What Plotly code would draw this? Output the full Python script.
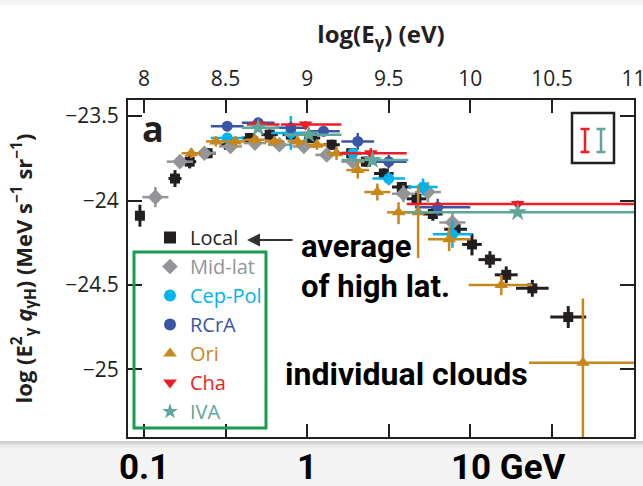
import plotly.graph_objects as go

# ---------------- data (log E [eV], log E^2 q) ----------------
local_x = [7.975, 8.19, 8.28, 8.39, 8.52, 8.65, 8.77, 8.90, 9.03, 9.15, 9.27, 9.36,
           9.47, 9.58, 9.67, 9.77, 9.91, 10.01, 10.12, 10.22, 10.38, 10.60]
local_y = [-24.09, -23.87, -23.77, -23.72, -23.67, -23.63, -23.61, -23.61, -23.63, -23.67,
           -23.72, -23.77, -23.84, -23.92, -23.99, -24.08, -24.17, -24.26, -24.35, -24.44,
           -24.52, -24.69]
local_xerr = [0.03, 0.04, 0.04, 0.05, 0.05, 0.05, 0.05, 0.05, 0.05, 0.05, 0.06, 0.06,
              0.06, 0.06, 0.06, 0.06, 0.07, 0.06, 0.07, 0.07, 0.10, 0.11]
local_yerr = [0.065, 0.05, 0.04, 0.03, 0.03, 0.03, 0.03, 0.03, 0.03, 0.03, 0.03, 0.03,
              0.03, 0.03, 0.04, 0.04, 0.04, 0.065, 0.05, 0.05, 0.05, 0.065]

midlat_x = [8.07, 8.22, 8.37, 8.53, 8.68, 8.83, 8.98, 9.12, 9.28, 9.59, 9.74, 9.89]
midlat_y = [-23.98, -23.77, -23.72, -23.68, -23.66, -23.67, -23.68, -23.73, -23.77,
            -23.96, -23.95, -24.13]
midlat_xerr = [0.08, 0.08, 0.07, 0.07, 0.07, 0.07, 0.07, 0.07, 0.07, 0.07, 0.08, 0.08]
midlat_yerr = [0.06, 0.03, 0.03, 0.03, 0.03, 0.03, 0.03, 0.03, 0.03, 0.05, 0.06, 0.06]

ceppol_x = [8.51, 8.90, 9.28, 9.50, 9.71, 9.89]
ceppol_y = [-23.63, -23.60, -23.72, -23.87, -23.92, -24.20]
ceppol_xerr = [0.10, 0.12, 0.12, 0.10, 0.09, 0.12]
ceppol_yerr = [0.03, 0.10, 0.03, 0.04, 0.05, 0.08]

rcra_x = [8.51, 8.70, 8.90, 9.10, 9.31, 9.50, 9.80]
rcra_y = [-23.56, -23.54, -23.57, -23.59, -23.65, -23.77, -24.04]
rcra_xerr_m = [0.10, 0.10, 0.10, 0.10, 0.10, 0.10, 0.14]
rcra_xerr_p = [0.10, 0.10, 0.10, 0.10, 0.10, 0.11, 0.20]
rcra_yerr = [0.03, 0.03, 0.03, 0.03, 0.05, 0.04, 0.05]

ori_x = [8.29, 8.44, 8.56, 8.68, 8.80, 8.94, 9.06, 9.18, 9.31, 9.43, 9.56, 9.68, 9.87, 10.19, 10.69]
ori_y = [-23.72, -23.65, -23.65, -23.64, -23.65, -23.65, -23.67, -23.72, -23.82, -23.95,
         -24.07, -24.07, -24.23, -24.50, -24.96]
ori_xerr_m = [0.06, 0.06, 0.06, 0.06, 0.06, 0.06, 0.06, 0.06, 0.07, 0.08, 0.07, 0.10, 0.13, 0.20, 0.33]
ori_xerr_p = [0.06, 0.06, 0.06, 0.06, 0.06, 0.06, 0.06, 0.06, 0.07, 0.08, 0.07, 0.10, 0.13, 0.19, 0.40]
ori_yerr_m = [0.03, 0.03, 0.03, 0.03, 0.03, 0.03, 0.03, 0.04, 0.05, 0.05, 0.07, 0.27, 0.07, 0.06, 0.60]
ori_yerr_p = [0.03, 0.03, 0.03, 0.03, 0.03, 0.03, 0.03, 0.04, 0.05, 0.05, 0.06, 0.16, 0.07, 0.06, 0.38]

cha_x = [8.70, 8.99, 9.39, 10.29]
cha_y = [-23.55, -23.55, -23.72, -24.02]
cha_xerr_m = [0.07, 0.15, 0.19, 0.68]
cha_xerr_p = [0.13, 0.22, 0.22, 0.80]
cha_yerr = [0.02, 0.02, 0.03, 0.02]

iva_x = [8.70, 9.01, 9.40, 10.29]
iva_y = [-23.57, -23.61, -23.76, -24.07]
iva_xerr_m = [0.10, 0.15, 0.19, 0.68]
iva_xerr_p = [0.13, 0.20, 0.22, 0.80]
iva_yerr = [0.02, 0.02, 0.03, 0.02]

x_ticks = [8, 8.5, 9, 9.5, 10, 10.5, 11]
x_ticktext = ["8", "8.5", "9", "9.5", "10", "10.5", "11"]
y_ticks = [-25, -24.5, -24, -23.5]
y_ticktext = ["\u221225", "\u221224.5", "\u221224", "\u221223.5"]
gev_labels = [(8, "0.1"), (9, "1"), (10, "10 GeV")]

# ---------------- styling ----------------
W, H = 643, 486
L, R, T, B = 128, 634, 100, 437
INK = "#231f20"


def pxp(x):
    return (x - L) / (R - L)


def pyp(y):
    return (B - y) / (B - T)


def series(name, color, symbol, size, x, y, xm, xp, ym, yp, thick=2.5):
    return go.Scatter(
        x=x, y=y, mode="markers",
        name=f'<span style="color:{color}">{name}</span>',
        marker=dict(symbol=symbol, size=size, color=color, line=dict(width=0)),
        error_x=dict(type="data", symmetric=False, array=xp, arrayminus=xm,
                     color=color, thickness=thick, width=0),
        error_y=dict(type="data", symmetric=False, array=yp, arrayminus=ym,
                     color=color, thickness=thick, width=0),
    )


fig = go.Figure()
fig.add_trace(series("Local", INK, "square", 10, local_x, local_y, local_xerr, local_xerr,
                     local_yerr, local_yerr, thick=3))
fig.add_trace(series("Mid-lat", "#939598", "diamond", 12, midlat_x, midlat_y, midlat_xerr,
                     midlat_xerr, midlat_yerr, midlat_yerr))
fig.add_trace(series("Cep-Pol", "#00b3ef", "circle", 11, ceppol_x, ceppol_y, ceppol_xerr,
                     ceppol_xerr, ceppol_yerr, ceppol_yerr))
fig.add_trace(series("RCrA", "#3b55a5", "circle", 11, rcra_x, rcra_y, rcra_xerr_m,
                     rcra_xerr_p, rcra_yerr, rcra_yerr))
fig.add_trace(series("Ori", "#c8871b", "triangle-up", 12, ori_x, ori_y, ori_xerr_m,
                     ori_xerr_p, ori_yerr_m, ori_yerr_p))
fig.add_trace(series("Cha", "#ee1c25", "triangle-down", 12, cha_x, cha_y, cha_xerr_m,
                     cha_xerr_p, cha_yerr, cha_yerr))
fig.add_trace(series("IVA", "#5fa59a", "star", 14, iva_x, iva_y, iva_xerr_m,
                     iva_xerr_p, iva_yerr, iva_yerr))

axis_common = dict(
    showgrid=False, zeroline=False, showline=True, linecolor=INK, linewidth=2,
    ticks="inside", tickcolor=INK, tickwidth=2, mirror="ticks", automargin=False,
    ticklabeloverflow="allow",
    tickfont=dict(family="Open Sans", size=21, color=INK),
)

fig.update_layout(
    width=W, height=H,
    margin=dict(l=L, r=W - R, t=T, b=H - B, autoexpand=False),
    paper_bgcolor="#f4f4f4", plot_bgcolor="rgba(0,0,0,0)",
    font=dict(family="Open Sans", color=INK),
    xaxis=dict(
        axis_common, side="top", range=[7.902, 11.003], tickmode="array",
        tickvals=x_ticks, ticktext=x_ticktext, ticklen=13, ticklabelstandoff=4,
        title=dict(text="<b>log(E<sub>γ</sub>) (eV)</b>", standoff=13,
                   font=dict(family="Open Sans", size=24, color=INK)),
    ),
    yaxis=dict(
        axis_common, range=[-25.40, -23.405], tickmode="array",
        tickvals=y_ticks, ticktext=y_ticktext, ticklen=14, ticklabelstandoff=3,
        title=dict(text="<b>log (E<sup>2</sup><sub>γ</sub> <i>q</i><sub>γH</sub>) "
                        "(MeV s<sup>−1</sup> sr<sup>−1</sup>)</b>", standoff=27,
                   font=dict(family="Open Sans", size=22, color=INK)),
    ),
    showlegend=True,
    legend=dict(
        x=pxp(150), y=pyp(218), xanchor="left", yanchor="top",
        bgcolor="rgba(0,0,0,0)", borderwidth=0, itemsizing="constant",
        font=dict(family="Open Sans", size=20, color=INK), traceorder="normal",
    ),
)

shapes = [
    # white panel and its shadow
    dict(type="rect", xref="paper", yref="paper", x0=pxp(0), x1=pxp(W), y0=pyp(441), y1=pyp(5),
         fillcolor="white", line=dict(width=0), layer="below"),
    dict(type="rect", xref="paper", yref="paper", x0=pxp(0), x1=pxp(W), y0=pyp(443), y1=pyp(441),
         fillcolor="#cfcfcf", line=dict(width=0), layer="below"),
    dict(type="rect", xref="paper", yref="paper", x0=pxp(0), x1=pxp(W), y0=pyp(445), y1=pyp(443),
         fillcolor="#dfdfdf", line=dict(width=0), layer="below"),
    dict(type="rect", xref="paper", yref="paper", x0=pxp(0), x1=pxp(W), y0=pyp(448), y1=pyp(445),
         fillcolor="#ebebeb", line=dict(width=0), layer="below"),
    # green legend box
    dict(type="rect", xref="paper", yref="paper", x0=pxp(134), x1=pxp(266), y0=pyp(428), y1=pyp(252),
         line=dict(color="#1a9a50", width=3)),
    # systematic-error key box
    dict(type="rect", xref="paper", yref="paper", x0=pxp(572), x1=pxp(614), y0=pyp(163), y1=pyp(113),
         line=dict(color=INK, width=2.5)),
]
for xc, col in [(585, "#ee1c25"), (601, "#5fa59a")]:
    shapes.append(dict(type="line", xref="paper", yref="paper", x0=pxp(xc), x1=pxp(xc),
                       y0=pyp(152), y1=pyp(129), line=dict(color=col, width=2.5)))
    for yc in (129, 152):
        shapes.append(dict(type="line", xref="paper", yref="paper", x0=pxp(xc - 4.5),
                           x1=pxp(xc + 4.5), y0=pyp(yc), y1=pyp(yc), line=dict(color=col, width=2.5)))
fig.update_layout(shapes=shapes)

ann = [
    dict(text="<b>a</b>", xref="paper", yref="paper", x=pxp(140), y=pyp(128), xanchor="left",
         yanchor="middle", showarrow=False, font=dict(family="Open Sans", size=36, color=INK)),
    dict(text="<b>average<br>of high lat.</b>", xref="paper", yref="paper", x=pxp(299), y=pyp(266),
         xanchor="left", yanchor="middle", align="left", showarrow=False,
         font=dict(family="Roboto", size=31, color="black")),
    dict(text="<b>individual clouds</b>", xref="paper", yref="paper", x=pxp(283), y=pyp(374),
         xanchor="left", yanchor="middle", showarrow=False,
         font=dict(family="Roboto", size=32, color="black")),
    dict(text="", xref="paper", yref="paper", x=pxp(247), y=pyp(240), ax=47, ay=0,
         showarrow=True, arrowhead=2, arrowsize=1.3, arrowwidth=2, arrowcolor="#333333"),
]
for xv, txt in gev_labels:
    a = dict(text=f"<b>{txt}</b>", xref="x", yref="paper", x=xv, y=pyp(467), yanchor="middle",
             showarrow=False, font=dict(family="Roboto", size=35, color="black"))
    if "GeV" in txt:
        a.update(xanchor="left", xshift=-21)
    else:
        a.update(xanchor="center")
    ann.append(a)
fig.update_layout(annotations=ann)

fig.write_html("out.html")
